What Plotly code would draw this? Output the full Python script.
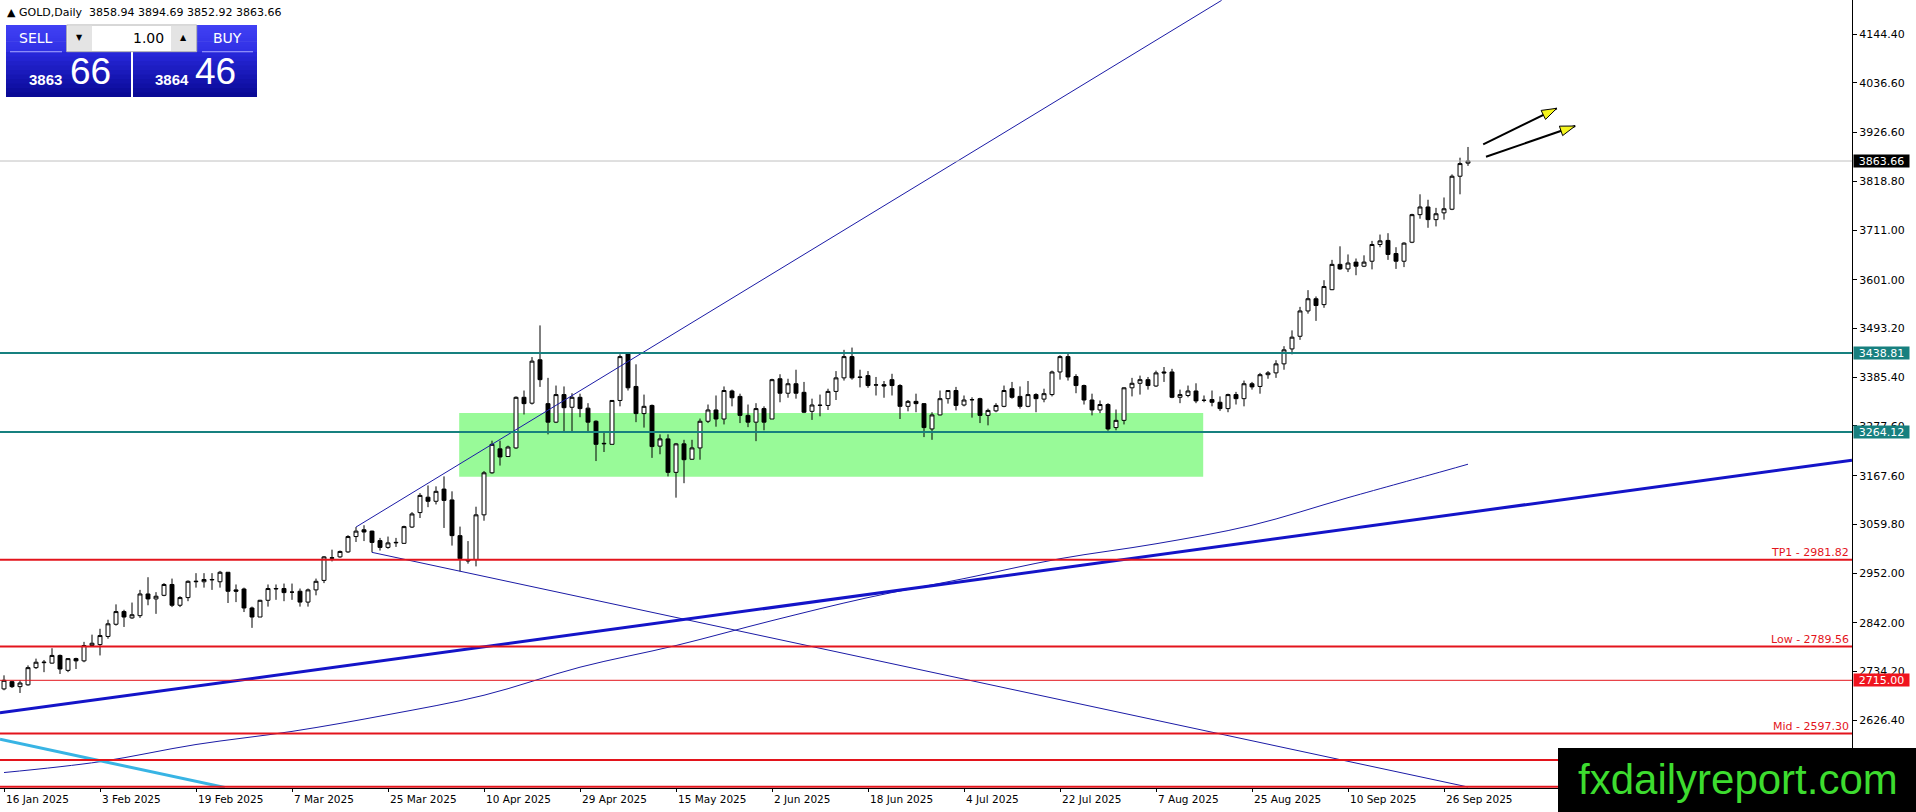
"""GOLD daily chart, MT4 style, rebuilt with Plotly.

Candles, drawn levels, trendlines, the 200-bar average, the trade panel and
the site watermark. Writes out.html.
"""
import pandas as pd
import plotly.graph_objects as go

# ---------------------------------------------------------------- data
OPEN = [2696, 2712, 2701, 2705, 2743, 2754, 2753, 2770, 2737, 2763,
        2758, 2792, 2794, 2812, 2839, 2867, 2853, 2858, 2906, 2895,
        2903, 2927, 2881, 2898, 2933, 2933, 2937, 2933, 2954, 2915,
        2917, 2875, 2855, 2892, 2917, 2918, 2910, 2912, 2888, 2915,
        2936, 2985, 2988, 2999, 3033, 3048, 3045, 3024, 3009, 3019,
        3018, 3054, 3086, 3120, 3111, 3138, 3114, 3035, 2982, 2982,
        3081, 3174, 3227, 3210, 3229, 3341, 3328, 3424, 3327, 3286,
        3347, 3319, 3341, 3317, 3288, 3238, 3237, 3334, 3437, 3365,
        3305, 3323, 3233, 3249, 3175, 3238, 3204, 3229, 3288, 3313,
        3293, 3355, 3343, 3301, 3286, 3316, 3293, 3382, 3350, 3371,
        3352, 3310, 3323, 3323, 3354, 3384, 3431, 3386, 3389, 3368,
        3369, 3380, 3367, 3321, 3332, 3327, 3271, 3302, 3338, 3356,
        3324, 3336, 3338, 3301, 3311, 3321, 3360, 3343, 3321, 3347,
        3337, 3347, 3397, 3431, 3387, 3367, 3335, 3313, 3325, 3274,
        3290, 3362, 3372, 3380, 3366, 3397, 3397, 3341, 3345, 3355,
        3334, 3336, 3330, 3316, 3347, 3338, 3371, 3365, 3391, 3395,
        3415, 3448, 3476, 3532, 3559, 3546, 3579, 3635, 3625, 3640,
        3631, 3642, 3679, 3688, 3659, 3642, 3684, 3745, 3762, 3734,
        3749, 3757, 3830, 3858.94]
HIGH = [2726, 2714, 2715, 2748, 2763, 2760, 2786, 2772, 2764, 2765,
        2800, 2816, 2829, 2849, 2883, 2871, 2887, 2915, 2943, 2910,
        2930, 2940, 2901, 2936, 2952, 2952, 2952, 2957, 2954, 2927,
        2920, 2878, 2893, 2927, 2927, 2929, 2929, 2918, 2918, 2940,
        2990, 3004, 3002, 3036, 3054, 3058, 3046, 3030, 3033, 3030,
        3057, 3087, 3129, 3146, 3144, 3166, 3133, 3055, 3023, 3099,
        3178, 3245, 3245, 3234, 3343, 3356, 3430, 3500, 3384, 3367,
        3365, 3350, 3349, 3328, 3290, 3266, 3335, 3436, 3439, 3414,
        3347, 3325, 3259, 3259, 3240, 3247, 3247, 3294, 3325, 3345,
        3365, 3358, 3349, 3325, 3328, 3321, 3382, 3392, 3382, 3402,
        3375, 3338, 3347, 3360, 3399, 3446, 3451, 3402, 3399, 3386,
        3377, 3393, 3370, 3335, 3349, 3328, 3308, 3356, 3357, 3364,
        3345, 3341, 3340, 3316, 3328, 3367, 3375, 3365, 3377, 3350,
        3360, 3400, 3434, 3437, 3392, 3369, 3349, 3334, 3328, 3314,
        3363, 3384, 3389, 3386, 3400, 3408, 3404, 3358, 3367, 3372,
        3345, 3356, 3343, 3349, 3353, 3378, 3375, 3395, 3399, 3423,
        3454, 3489, 3541, 3578, 3564, 3600, 3645, 3675, 3657, 3648,
        3655, 3687, 3701, 3704, 3673, 3684, 3747, 3790, 3778, 3760,
        3783, 3834, 3871, 3894.69]
LOW = [2693, 2698, 2687, 2703, 2740, 2733, 2752, 2729, 2733, 2740,
       2755, 2790, 2770, 2807, 2836, 2833, 2851, 2853, 2881, 2862,
       2901, 2877, 2877, 2890, 2920, 2920, 2915, 2920, 2886, 2888,
       2866, 2831, 2855, 2878, 2893, 2890, 2893, 2878, 2878, 2903,
       2930, 2978, 2986, 2997, 3021, 3023, 2998, 3002, 3006, 3010,
       3017, 3052, 3074, 3098, 3104, 3052, 3013, 2956, 2973, 2967,
       3068, 3172, 3190, 3209, 3227, 3303, 3325, 3364, 3259, 3284,
       3266, 3266, 3297, 3266, 3200, 3220, 3237, 3321, 3356, 3286,
       3274, 3207, 3215, 3166, 3119, 3151, 3203, 3203, 3284, 3276,
       3281, 3321, 3284, 3275, 3244, 3268, 3293, 3330, 3340, 3338,
       3306, 3291, 3299, 3313, 3335, 3378, 3380, 3363, 3362, 3345,
       3340, 3345, 3293, 3310, 3308, 3253, 3247, 3301, 3327, 3312,
       3321, 3296, 3284, 3279, 3308, 3319, 3338, 3316, 3319, 3308,
       3330, 3343, 3380, 3378, 3350, 3325, 3301, 3306, 3267, 3268,
       3281, 3343, 3347, 3358, 3364, 3375, 3339, 3328, 3341, 3328,
       3330, 3321, 3311, 3308, 3325, 3321, 3358, 3349, 3382, 3384,
       3402, 3436, 3468, 3526, 3510, 3539, 3578, 3623, 3618, 3611,
       3629, 3624, 3673, 3645, 3625, 3629, 3682, 3736, 3716, 3719,
       3734, 3755, 3790, 3852.92]
CLOSE = [2715, 2701, 2709, 2743, 2755, 2755, 2770, 2740, 2763, 2758,
         2792, 2797, 2814, 2840, 2867, 2855, 2860, 2906, 2895, 2901,
         2927, 2881, 2898, 2934, 2934, 2938, 2938, 2954, 2912, 2912,
         2875, 2855, 2892, 2918, 2918, 2909, 2910, 2888, 2915, 2934,
         2988, 2986, 3000, 3033, 3045, 3043, 3020, 3009, 3019, 3020,
         3055, 3083, 3124, 3111, 3133, 3113, 3035, 2984, 2979, 3081,
         3174, 3237, 3209, 3231, 3341, 3327, 3421, 3380, 3286, 3347,
         3318, 3341, 3316, 3286, 3237, 3239, 3334, 3431, 3362, 3305,
         3321, 3232, 3249, 3175, 3238, 3203, 3229, 3288, 3313, 3293,
         3356, 3340, 3301, 3286, 3316, 3286, 3380, 3350, 3371, 3350,
         3308, 3324, 3323.5, 3354, 3384, 3431, 3384, 3385, 3367, 3368.5,
         3366, 3367, 3321, 3332, 3327, 3274, 3302, 3338, 3356, 3323,
         3335, 3335.5, 3301, 3312, 3323, 3356, 3341, 3321, 3347, 3338,
         3349, 3397, 3431, 3386, 3367, 3335, 3313, 3325, 3271, 3290,
         3362, 3372, 3380, 3367, 3395, 3395, 3341, 3347, 3355, 3333,
         3334.5, 3330, 3316, 3347, 3338, 3371, 3364, 3391, 3395, 3415,
         3446, 3474, 3532, 3559, 3544, 3586, 3635, 3625, 3638, 3631,
         3640, 3679, 3687, 3657, 3642, 3682, 3745, 3762, 3734, 3747,
         3758, 3830, 3858, 3863.66]

TICK_LABELS = ["16 Jan 2025", "3 Feb 2025", "19 Feb 2025", "7 Mar 2025",
               "25 Mar 2025", "10 Apr 2025", "29 Apr 2025", "15 May 2025",
               "2 Jun 2025", "18 Jun 2025", "4 Jul 2025", "22 Jul 2025",
               "7 Aug 2025", "25 Aug 2025", "10 Sep 2025", "26 Sep 2025"]
PRICE_TICKS = [4144.40, 4036.60, 3926.60, 3818.80, 3711.00, 3601.00, 3493.20,
               3385.40, 3277.60, 3167.60, 3059.80, 2952.00, 2842.00, 2734.20,
               2626.40]

# 200-bar moving average, read at every 12th bar (bar index, price)
MA_X = [0, 12, 24, 36, 48, 60, 72, 84, 96, 108, 120, 132, 144, 156, 168, 180, 183]
MA_Y = [2511, 2535, 2573, 2602, 2639, 2682, 2744, 2792, 2847, 2898, 2940,
        2984, 3017, 3058, 3119, 3178, 3193]

# drawn trendlines (bar index, price)
RISE_X, RISE_Y = [44, 152.2], [3054, 4219]          # thin channel top
DESC_X, DESC_Y = [46, 183], [2998, 2479]            # thin falling line
THICK_X, THICK_Y = [-0.5, 231], [2643, 3202]        # thick rising line
CYAN_X, CYAN_Y = [-0.5, 27.6], [2584.5, 2478]       # cyan falling line

ZONE_X, ZONE_Y = [56.9, 149.9], [3165, 3306]        # green box

BID = 3863.66
TEAL_LEVELS = [3438.81, 3264.12]
RED_LEVELS = [2981.82, 2789.56, 2715.00, 2597.30, 2538.7, 2479.6]
RED_LABELS = ["TP1 - 2981.82", "Low - 2789.56", "", "Mid - 2597.30", "", ""]
RED_WIDTHS = [2, 2, 1, 2, 2, 2]

# arrows: start / tip (bar index, price)
ARROWS = [((184.9, 3900.6), (194.1, 3980.2)),
          ((185.25, 3873.2), (196.4, 3941.1))]

HEADER = "▲\u00a0GOLD,Daily\u00a0\u00a03858.94 3894.69 3852.92 3863.66"

# ---------------------------------------------------------------- layout
W, H = 1916, 812
M_L, M_R, M_T, M_B = 0, 64, 0, 24
PLOT_W, PLOT_H = W - M_L - M_R, H - M_T - M_B
X_RANGE = [-0.5, 231.0]
Y_RANGE = [2476.8, 4219.8]

FONT = "DejaVu Sans"
RED = "#e3141c"
TEAL = "#17807f"
NAVY = "#1b1ba6"

dates = pd.bdate_range("2025-01-16", "2025-10-01").drop(pd.Timestamp("2025-04-18"))
assert len(dates) == len(CLOSE)
bars = list(range(len(dates)))
tick_pos = [dates.get_loc(pd.Timestamp(t)) for t in TICK_LABELS]


def px_x(x):
    return (x - M_L) / PLOT_W


def px_y(y):
    return 1 - (y - M_T) / PLOT_H


def to_px(i, p):
    x = (i - X_RANGE[0]) / (X_RANGE[1] - X_RANGE[0]) * PLOT_W
    y = (Y_RANGE[1] - p) / (Y_RANGE[1] - Y_RANGE[0]) * PLOT_H
    return x, y


def to_data(x, y):
    i = X_RANGE[0] + x / PLOT_W * (X_RANGE[1] - X_RANGE[0])
    p = Y_RANGE[1] - y / PLOT_H * (Y_RANGE[1] - Y_RANGE[0])
    return i, p


def mix(c0, c1, t):
    a = [int(c0[k:k + 2], 16) for k in (1, 3, 5)]
    b = [int(c1[k:k + 2], 16) for k in (1, 3, 5)]
    return "rgb(%d,%d,%d)" % tuple(round(u + (v - u) * t) for u, v in zip(a, b))


shapes, annotations = [], []


def grad_rect(x0, y0, x1, y1, c_top, c_bot, n=10):
    for k in range(n):
        ya = y0 + (y1 - y0) * k / n
        yb = min(y1, y0 + (y1 - y0) * (k + 1) / n + 0.6)
        shapes.append(dict(type="rect", xref="paper", yref="paper",
                           x0=px_x(x0), x1=px_x(x1), y0=px_y(ya), y1=px_y(yb),
                           fillcolor=mix(c_top, c_bot, k / (n - 1)),
                           line_width=0, layer="above"))


def box(x0, y0, x1, y1, fill, line="rgba(0,0,0,0)", lw=0):
    shapes.append(dict(type="rect", xref="paper", yref="paper",
                       x0=px_x(x0), x1=px_x(x1), y0=px_y(y0), y1=px_y(y1),
                       fillcolor=fill, line=dict(color=line, width=lw), layer="above"))


def text(x, y, s, size=11, color="black", xanchor="left", family=FONT, **kw):
    annotations.append(dict(xref="paper", yref="paper", x=px_x(x), y=px_y(y),
                            text=s, showarrow=False, xanchor=xanchor,
                            yanchor="middle", font=dict(size=size, color=color,
                                                        family=family), **kw))


fig = go.Figure()

# green zone (behind candles)
shapes.append(dict(type="rect", xref="x", yref="y", x0=ZONE_X[0], x1=ZONE_X[1],
                   y0=ZONE_Y[0], y1=ZONE_Y[1], fillcolor="#98fa98",
                   line_width=0, layer="below"))

fig.add_trace(go.Candlestick(
    x=bars, open=OPEN, high=HIGH, low=LOW, close=CLOSE,
    increasing=dict(fillcolor="white", line=dict(color="black", width=1)),
    decreasing=dict(fillcolor="black", line=dict(color="black", width=1)),
    whiskerwidth=0, hoverinfo="skip", showlegend=False))

fig.add_trace(go.Scatter(x=MA_X, y=MA_Y, mode="lines", line=dict(color=NAVY, width=1, shape="spline"),
                         hoverinfo="skip", showlegend=False))
for xs, ys, col, w in [(RISE_X, RISE_Y, NAVY, 1), (DESC_X, DESC_Y, NAVY, 1),
                       (THICK_X, THICK_Y, "#1414c8", 3), (CYAN_X, CYAN_Y, "#38b4e4", 3)]:
    fig.add_trace(go.Scatter(x=xs, y=ys, mode="lines", line=dict(color=col, width=w),
                             hoverinfo="skip", showlegend=False))

# horizontal levels
shapes.append(dict(type="line", xref="paper", yref="y", x0=0, x1=1, y0=BID, y1=BID,
                   line=dict(color="#c0c0c0", width=1), layer="above"))
for lv in TEAL_LEVELS:
    shapes.append(dict(type="line", xref="paper", yref="y", x0=0, x1=1, y0=lv, y1=lv,
                       line=dict(color=TEAL, width=2), layer="above"))
for lv, lab, w in zip(RED_LEVELS, RED_LABELS, RED_WIDTHS):
    shapes.append(dict(type="line", xref="paper", yref="y", x0=0, x1=1, y0=lv, y1=lv,
                       line=dict(color=RED, width=w), layer="above"))
    if lab:
        annotations.append(dict(xref="paper", yref="y", x=1, y=lv, xanchor="right",
                                yanchor="bottom", xshift=-1, yshift=-1, text=lab,
                                showarrow=False, font=dict(size=11, color=RED, family=FONT)))

# arrows: black shaft, yellow head
HEAD_LEN, HEAD_HALF = 15, 5
for (i0, p0), (i1, p1) in ARROWS:
    fig.add_trace(go.Scatter(x=[i0, i1], y=[p0, p1], mode="lines",
                             line=dict(color="black", width=2),
                             hoverinfo="skip", showlegend=False))
    x0, y0 = to_px(i0, p0)
    x1, y1 = to_px(i1, p1)
    L = ((x1 - x0) ** 2 + (y1 - y0) ** 2) ** 0.5
    ux, uy = (x1 - x0) / L, (y1 - y0) / L
    bx, by = x1 - ux * HEAD_LEN, y1 - uy * HEAD_LEN
    pts = [(x1, y1), (bx - uy * HEAD_HALF, by + ux * HEAD_HALF),
           (bx + uy * HEAD_HALF, by - ux * HEAD_HALF)]
    pts = [to_data(*p) for p in pts]
    path = "M %f,%f L %f,%f L %f,%f Z" % tuple(v for p in pts for v in p)
    shapes.append(dict(type="path", xref="x", yref="y", path=path,
                       fillcolor="#f5f51e", line=dict(color="black", width=1),
                       layer="above"))

# price badges on the axis
for val, col in [(BID, "black"), (TEAL_LEVELS[0], TEAL), (TEAL_LEVELS[1], TEAL),
                 (RED_LEVELS[2], "#f0141e")]:
    annotations.append(dict(xref="paper", yref="y", x=1, y=val, xanchor="left",
                            xshift=1, text="%.2f" % val, showarrow=False,
                            bgcolor=col, width=55, height=12, borderpad=0,
                            font=dict(size=11, color="white", family=FONT)))

# date labels, left aligned on their tick
for pos, lab in zip(tick_pos, TICK_LABELS):
    annotations.append(dict(xref="x", yref="paper", x=pos, y=0, xanchor="left",
                            yanchor="top", yshift=-3, text=lab, showarrow=False,
                            font=dict(size=10.5, color="black", family=FONT)))

# header + one-click trading panel
text(5, 13, HEADER, size=11)
grad_rect(6, 25, 131, 52, "#4040f4", "#3030e4")
grad_rect(133, 25, 257, 52, "#4040f4", "#3030e4")
grad_rect(6, 52, 131, 97, "#2626d8", "#0a0a96")
grad_rect(133, 52, 257, 97, "#2626d8", "#0a0a96")
box(10, 51.2, 62, 52.2, "#a8a8ff")
box(202, 51.2, 253, 52.2, "#a8a8ff")
box(66.7, 25, 196.7, 51.7, "#ffffff", "#b0b0b0", 1)
box(67.5, 25.8, 92, 50.9, "#e4e4e4")
box(171, 25.8, 196, 50.9, "#e4e4e4")
text(79.5, 38, "▼", size=8, xanchor="center")
text(183.5, 37, "▲", size=8, xanchor="center")
text(166, 38, "1.00", size=14, xanchor="right")
text(36, 38.5, "SELL", size=14, color="white", xanchor="center")
text(227, 38.5, "BUY", size=14, color="white", xanchor="center")
text(27, 79.5, "<b>3863</b>", size=15, color="white", family="Liberation Sans")
text(68, 71, "66", size=37, color="white", family="Liberation Sans")
text(153, 79.5, "<b>3864</b>", size=15, color="white", family="Liberation Sans")
text(193, 71, "46", size=37, color="white", family="Liberation Sans")

# watermark
box(1558, 748, 1916, 812, "black")
text(1738, 779, "fxdailyreport.com", size=42, color="#3ddc2f",
     xanchor="center", family="Liberation Sans")

fig.update_layout(
    template="none",
    width=W, height=H,
    margin=dict(l=M_L, r=M_R, t=M_T, b=M_B, pad=0),
    paper_bgcolor="white", plot_bgcolor="white",
    showlegend=False,
    shapes=shapes, annotations=annotations,
    xaxis=dict(range=X_RANGE, rangeslider=dict(visible=False), showgrid=False,
               zeroline=False, showline=True, linecolor="black", linewidth=1,
               tickvals=tick_pos, ticks="outside", ticklen=3, tickcolor="black",
               showticklabels=False, automargin=False, fixedrange=True),
    yaxis=dict(range=Y_RANGE, side="right", showgrid=False, zeroline=False,
               showline=True, mirror=True, linecolor="black", linewidth=1,
               tickvals=PRICE_TICKS, ticktext=["%.2f" % v for v in PRICE_TICKS],
               ticks="outside", ticklen=4, tickcolor="black",
               tickfont=dict(size=11, color="black", family=FONT),
               automargin=False, fixedrange=True),
    font=dict(family=FONT),
)

# page without body margin so the 1916x812 figure fills the window exactly
fig.write_html("out.html", config={"displayModeBar": False},
               post_script="document.body.style.margin='0';"
                           "document.body.style.overflow='hidden';")
